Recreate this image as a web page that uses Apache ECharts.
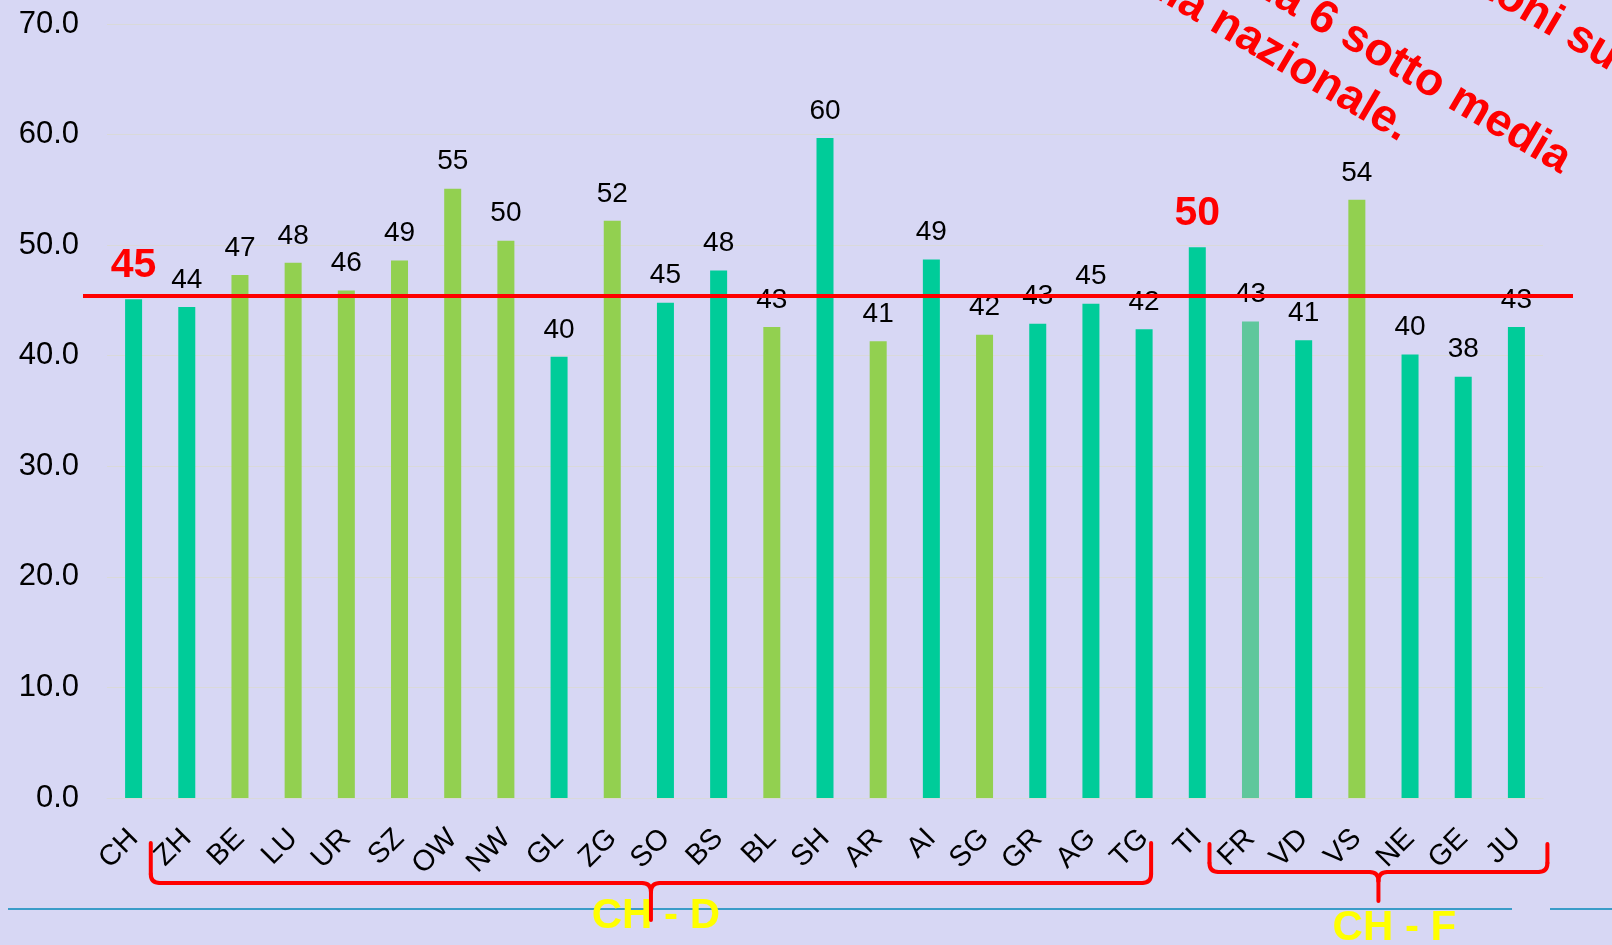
<!DOCTYPE html>
<html>
<head>
<meta charset="utf-8">
<script src="https://cdn.jsdelivr.net/npm/echarts@6.0.0/dist/echarts.min.js"></script>
<style>
  html, body { margin: 0; padding: 0; background: #D7D7F4; }
  #chart { width: 1612px; height: 945px; }
</style>
</head>
<body>
<div id="chart"></div>

<script>
  // dati
  var categorie = ['CH','ZH','BE','LU','UR','SZ','OW','NW','GL','ZG','SO','BS','BL','SH','AR','AI','SG','GR','AG','TG','TI','FR','VD','VS','NE','GE','JU'];
  var valori = [45.1,44.4,47.3,48.4,45.9,48.6,55.1,50.4,39.9,52.2,44.8,47.7,42.6,59.7,41.3,48.7,41.9,42.9,44.7,42.4,49.8,43.1,41.4,54.1,40.1,38.1,42.6];
  // t = turchese, v = verde, f = turchese spento
  var gruppi = ['t','t','v','v','v','v','v','v','t','v','t','t','v','t','v','t','v','t','t','t','t','f','t','v','t','t','t'];
  var evidenziati = ['CH','TI'];
  var mediaNazionale = 45.4;
  var yMin = 0, yMax = 70, yPasso = 10;

  // gruppi linguistici sotto l'asse
  var regioniNomi = ['CH - D','CH - F'];
  var regioniDa = ['ZH','FR'];
  var regioniA = ['TG','JU'];

  // nota ruotata in alto a destra
  var notaRighe = ['Ticino: 20 cantoni su', '26 sopra la media, ma 6 sotto media', 'sotto la media nazionale.'];

  var App = {};

  App.init = function(){
    var _this = this;
    var colori = { t: '#00CC99', v: '#92D050', f: '#5FC79C' };
    var font = 'Arial, "Liberation Sans", sans-serif';

    _this.chart = echarts.init(document.getElementById('chart'));

    var datiBarre = valori.map(function(v, i){
      var item = { value: v, itemStyle: { color: colori[gruppi[i]] } };
      if (evidenziati.indexOf(categorie[i]) >= 0) {
        item.label = { color: '#FF0000', fontWeight: 'bold', fontSize: 41 };
      }
      return item;
    });

    var option = {
      backgroundColor: '#D7D7F4',
      animation: false,
      grid: [
        { left: 107, right: 69, top: 24, bottom: 147 },
        { left: 83, right: 39, top: 24, bottom: 147 }
      ],
      xAxis: [{
        type: 'category',
        data: categorie,
        axisLine: { lineStyle: { color: '#D9D9D9', width: 1 } },
        axisTick: { show: false },
        axisLabel: { rotate: 45, margin: 36, fontSize: 29, color: '#000', fontFamily: font, interval: 0 }
      }, {
        type: 'value', gridIndex: 1, min: 0, max: 1, show: false
      }],
      yAxis: [{
        type: 'value',
        min: yMin, max: yMax, interval: yPasso,
        axisLine: { show: false },
        axisTick: { show: false },
        splitLine: { lineStyle: { color: '#D9D9D9', width: 1 } },
        axisLabel: {
          fontSize: 31, color: '#000', fontFamily: font, margin: 28,
          formatter: function(v){ return v.toFixed(1); }
        }
      }, {
        type: 'value', gridIndex: 1, min: yMin, max: yMax, show: false
      }],
      series: [{
        type: 'bar',
        data: datiBarre,
        barWidth: 17,
        label: {
          show: true, position: 'top', distance: 13,
          fontSize: 28, color: '#000', fontFamily: font,
          formatter: function(p){ return Math.round(p.value); }
        }
      }, {
        // media nazionale, linea rossa
        type: 'line',
        xAxisIndex: 1, yAxisIndex: 1,
        data: [[0, mediaNazionale], [1, mediaNazionale]],
        symbol: 'none',
        lineStyle: { color: '#FF0000', width: 4 },
        z: 5
      }]
    };

    _this.chart.setOption(option);

    var stileGraffa = { stroke: '#FF0000', lineWidth: 4, fill: null, lineCap: 'round' };

    // parentesi graffa fatta di segmenti e curve
    var graffa = function(x1, x2, yTop, yH, yTip){
      var xm = (x1 + x2) / 2, r = 9, pezzi = [];
      var linea = function(a, b, c, d){
        pezzi.push({ type: 'line', z: 12, shape: { x1: a, y1: b, x2: c, y2: d }, style: stileGraffa });
      };
      var curva = function(a, b, cx, cy, c, d){
        pezzi.push({ type: 'bezierCurve', z: 12, shape: { x1: a, y1: b, cpx1: cx, cpy1: cy, x2: c, y2: d }, style: stileGraffa });
      };
      linea(x1, yTop, x1, yH - r);
      curva(x1, yH - r, x1, yH, x1 + r, yH);
      linea(x1 + r, yH, xm - r, yH);
      curva(xm - r, yH, xm, yH, xm, yH + r);
      linea(xm, yH + r, xm, yTip);
      curva(xm, yH + r, xm, yH, xm + r, yH);
      linea(xm + r, yH, x2 - r, yH);
      curva(x2 - r, yH, x2, yH, x2, yH - r);
      linea(x2, yH - r, x2, yTop);
      return pezzi;
    };

    var px = function(c){ return _this.chart.convertToPixel({ xAxisIndex: 0 }, c); };

    var grafica = [];

    // linea azzurra in basso
    grafica.push({ type: 'line', shape: { x1: 8, y1: 909, x2: 1512, y2: 909 }, style: { stroke: '#3A9CC8', lineWidth: 2 }, z: 10 });
    grafica.push({ type: 'line', shape: { x1: 1550, y1: 909, x2: 1612, y2: 909 }, style: { stroke: '#3A9CC8', lineWidth: 2 }, z: 10 });

    var geo = [
      { l: -36, r: 7, top: 843, h: 883, tip: 920, ty: 916, dx: 5 },
      { l: -41, r: 31, top: 844, h: 872, tip: 901, ty: 928, dx: 16 }
    ];

    regioniNomi.forEach(function(nome, i){
      var x1 = px(regioniDa[i]) + geo[i].l;
      var x2 = px(regioniA[i]) + geo[i].r;
      grafica.push({
        type: 'text', x: (x1 + x2) / 2 + geo[i].dx, y: geo[i].ty, z: 11,
        style: { text: nome, fill: '#FFFF00', font: 'bold 42px ' + font, textAlign: 'center', textVerticalAlign: 'middle' }
      });
      grafica = grafica.concat(graffa(x1, x2, geo[i].top, geo[i].h, geo[i].tip));
    });

    // nota ruotata
    var notaPos = [[1616, 60], [1567, 163], [1406, 131]];
    notaRighe.forEach(function(riga, i){
      grafica.push({
        type: 'text', x: notaPos[i][0], y: notaPos[i][1], rotation: -30.5 * Math.PI / 180, z: 20,
        style: { text: riga, fill: '#FF0000', font: 'bold 46px ' + font, textAlign: 'right', textVerticalAlign: 'middle' }
      });
    });

    _this.chart.setOption({ graphic: grafica });
  };

  App.init();
</script>
</body>
</html>
